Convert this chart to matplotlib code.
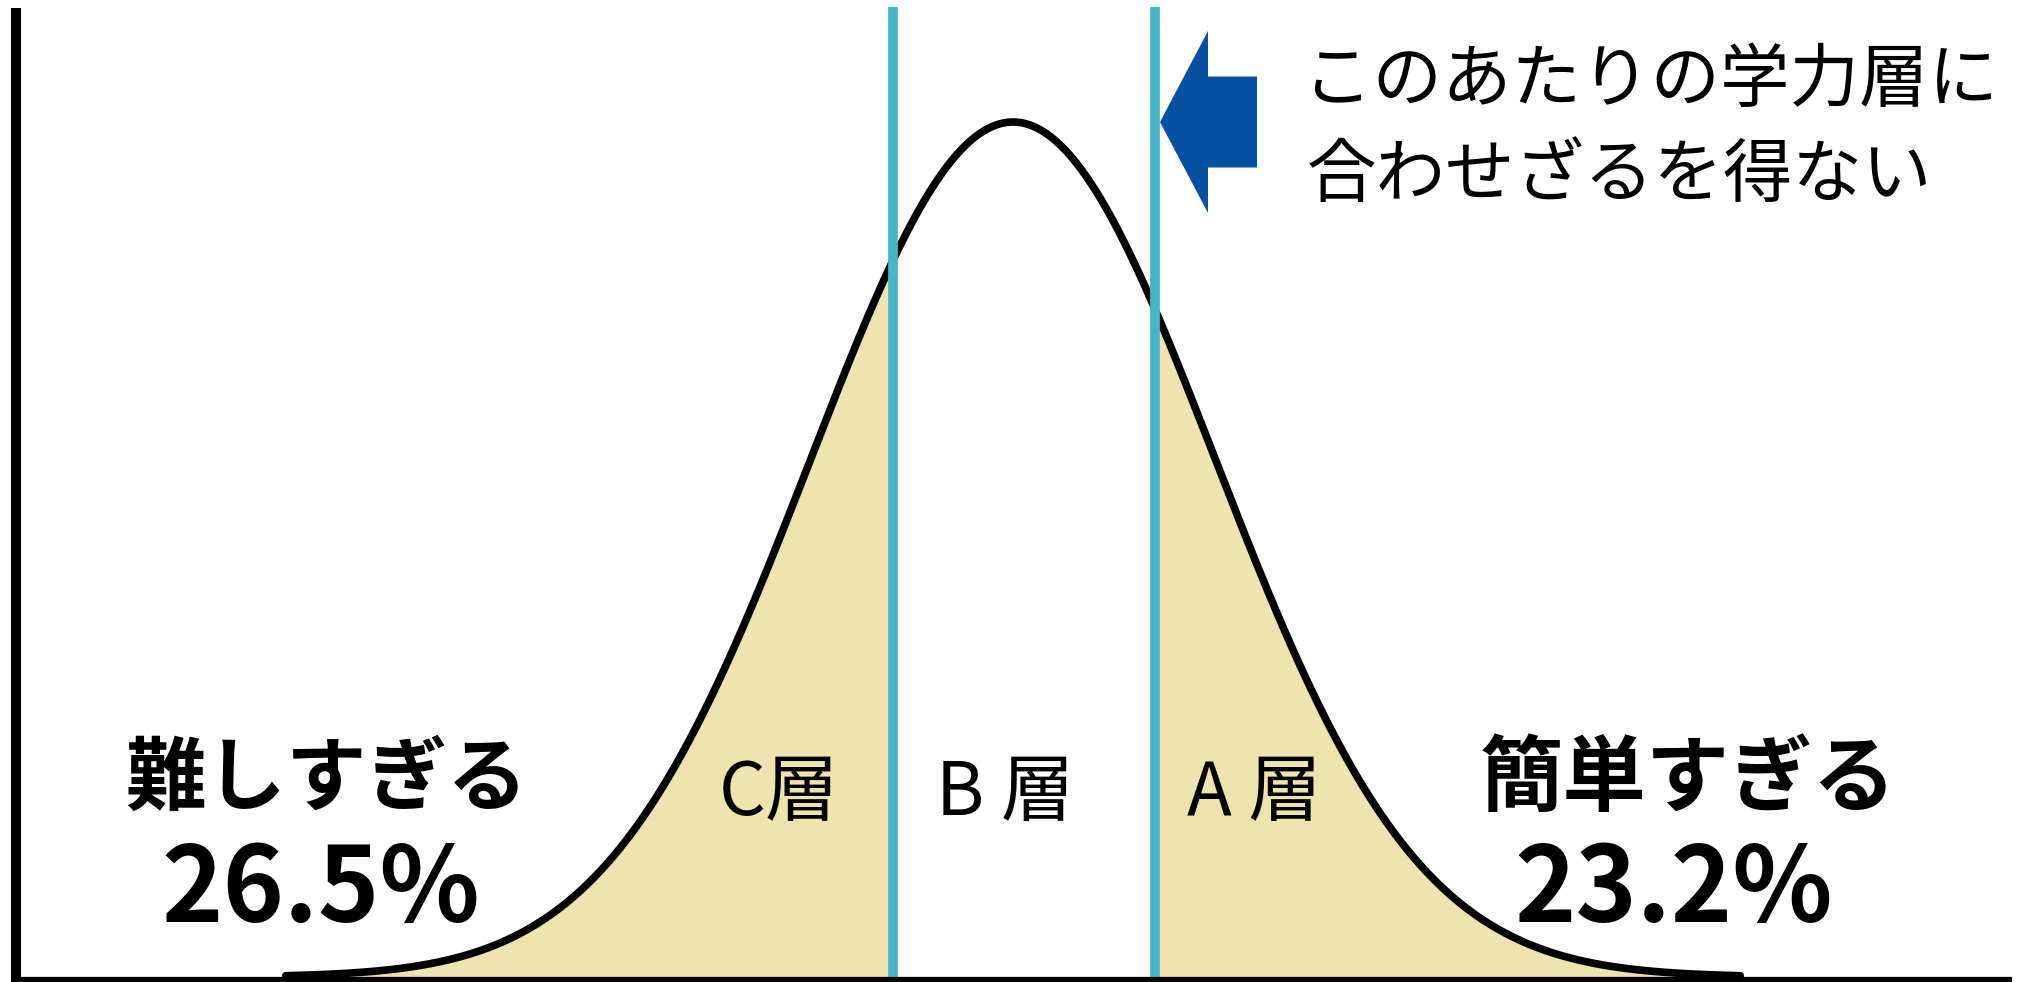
import numpy as np
import matplotlib
matplotlib.use("Agg")
import matplotlib.pyplot as plt
from matplotlib.patches import FancyArrow

plt.rcParams['font.family'] = ['Noto Sans CJK JP', 'DejaVu Sans']

# ---- data ----
layer_labels = ['C層', 'B 層', 'A 層']
side_labels = ['難しすぎる', '簡単すぎる']
side_percents = [26.5, 23.2]
boundaries_z = [-0.594, 0.703]          # layer boundaries (in standard deviations)
note_lines = ['このあたりの学力層に', '合わせざるを得ない']
mean_z, sd_z = 0.0, 1.0

# ---- layout (pixel frame of the 2024x982 picture) ----
W, H = 2024, 982
PEAK_X, SIGMA_PX = 1013, 202
BASE_Y, PEAK_Y = 977, 122

def fx(px):
    return (px - PEAK_X) / SIGMA_PX

def fy(py):
    return (BASE_Y - py) / (BASE_Y - PEAK_Y)

fig = plt.figure(figsize=(W / 100, H / 100), dpi=100)
ax = fig.add_axes([0, 0, 1, 1])
ax.set_xlim(fx(0), fx(W))
ax.set_ylim(fy(H), fy(0))
ax.axis('off')

z = np.linspace(-3.6, 3.6, 1200)
dens = np.exp(-0.5 * ((z - mean_z) / sd_z) ** 2)

fill_col = '#EFE3B0'
ax.fill_between(z, 0, dens, where=z <= boundaries_z[0], color=fill_col, lw=0, zorder=1)
ax.fill_between(z, 0, dens, where=z >= boundaries_z[1], color=fill_col, lw=0, zorder=1)
ax.plot(z, dens, color='black', lw=5.5, zorder=3, solid_capstyle='round')

# axes lines
ax.plot([fx(16), fx(16)], [fy(H), fy(8)], color='black', lw=7.2,
        solid_capstyle='butt', zorder=5)
ax.plot([fx(11), fx(2012)], [fy(980), fy(980)], color='black', lw=4.5,
        solid_capstyle='butt', zorder=5)

# boundary lines
for b in boundaries_z:
    ax.plot([b, b], [0, fy(7)], color='#4BB5C8', lw=7.0,
            solid_capstyle='butt', zorder=4)

# arrow pointing at the right boundary, at peak height
tip = fx(1160)
tail = fx(1257)
arr = FancyArrow(tail, 1.0, tip - tail, 0,
                 width=91 / (BASE_Y - PEAK_Y),
                 head_width=182 / (BASE_Y - PEAK_Y),
                 head_length=(1208 - 1160) / SIGMA_PX,
                 length_includes_head=True, color='#0550A0', lw=0, zorder=6)
ax.add_patch(arr)

# note text
ax.text(fx(1303), fy(81), note_lines[0], fontsize=50, ha='left', va='center', color='black')
ax.text(fx(1307), fy(176), note_lines[1], fontsize=50, ha='left', va='center', color='black')

# layer labels
layer_x = [fx(779), fx(1005), fx(1254)]
for lx, lab in zip(layer_x, layer_labels):
    ax.text(lx, fy(794), lab, fontsize=53, ha='center', va='center', color='black', zorder=7)

# side labels
side_x = [fx(326), fx(1688)]
pct_x = [fx(321), fx(1674)]
side_fs = [58, 60]
for sx, px_, fs, lab, pct in zip(side_x, pct_x, side_fs, side_labels, side_percents):
    ax.text(sx, fy(780), lab, fontsize=fs, fontweight='bold', ha='center', va='center', color='black')
    ax.text(px_, fy(891), f'{pct:.1f}%', fontsize=75, fontweight='bold', ha='center', va='center', color='black')

fig.savefig('out.png', dpi=100)
